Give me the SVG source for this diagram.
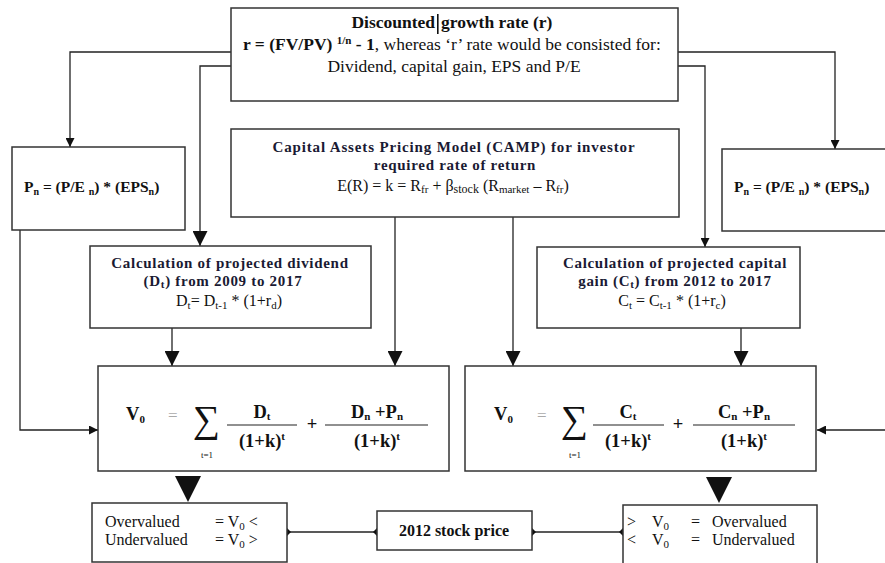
<svg xmlns="http://www.w3.org/2000/svg" width="885" height="563" viewBox="0 0 885 563">
<style>
.box{fill:#fff;stroke:#333;stroke-width:1.5}
.ln{fill:none;stroke:#222;stroke-width:1.3}
text{font-family:"Liberation Serif","Times New Roman",serif;fill:#111}
.b{font-weight:bold}
.t17{font-size:17.5px}
.t15{font-size:15.5px}
.hd{font-size:15px;font-weight:bold;letter-spacing:0.7px;fill:#1a1a33}
.t16{font-size:16px}
.f{font-size:18.5px;font-weight:bold}
.sig{font-size:38px}
.sm{font-size:9px}
.eq{fill:#aaa;font-size:17px}
</style>
<defs>
<marker id="arrS" viewBox="0 0 10 10" refX="10" refY="5" markerWidth="9" markerHeight="9" markerUnits="userSpaceOnUse" orient="auto"><path d="M0,0 L10,5 L0,10 z" fill="#111"/></marker>
<marker id="arrL" viewBox="0 0 10 10" refX="10" refY="5" markerWidth="15" markerHeight="15" markerUnits="userSpaceOnUse" orient="auto"><path d="M0,0 L10,5 L0,10 z" fill="#111"/></marker>
<marker id="dia" viewBox="0 0 10 10" refX="5" refY="5" markerWidth="8" markerHeight="8" markerUnits="userSpaceOnUse" orient="auto"><path d="M5,0 L10,5 L5,10 L0,5 z" fill="#111"/></marker>
</defs>

<g id="connectors">
<path class="ln" d="M231,52 H70 V147" marker-end="url(#arrS)"/>
<path class="ln" d="M231,66 H200 V246" marker-end="url(#arrL)"/>
<path class="ln" d="M678,52 H835 V149" marker-end="url(#arrS)"/>
<path class="ln" d="M678,66 H705 V247" marker-end="url(#arrS)"/>
<path class="ln" d="M20,230 V430 H98" marker-end="url(#arrS)"/>
<path class="ln" d="M885,430 H817" marker-end="url(#arrS)"/>
<path class="ln" d="M172,328 V366" marker-end="url(#arrL)"/>
<path class="ln" d="M395,217 V366" marker-end="url(#arrL)"/>
<path class="ln" d="M513,217 V366" marker-end="url(#arrL)"/>
<path class="ln" d="M741,328 V366" marker-end="url(#arrL)"/>
<polygon points="175,476 201,476 188,502" fill="#111"/>
<polygon points="706,477 732,477 719,503" fill="#111"/>
<path class="ln" d="M287,532 H377" marker-start="url(#dia)" marker-end="url(#dia)"/>
<path class="ln" d="M532,532 H623" marker-start="url(#dia)" marker-end="url(#dia)"/>
</g>

<g id="growth-rate">
<rect class="box" x="231" y="8" width="447" height="93"/>
<text class="b t17" x="435" y="28" text-anchor="end">Discounted</text>
<rect x="437" y="14" width="1.6" height="20" fill="#111"/>
<text class="b t17" x="441" y="28">growth rate (r)</text>
<text class="t17" x="243" y="50"><tspan class="b">r = (FV/PV) </tspan><tspan class="b" font-size="11" dy="-6">1/n</tspan><tspan class="b" dy="6"> - 1</tspan>, whereas ‘r’ rate would be consisted for:</text>
<text class="t17" x="454" y="72" text-anchor="middle">Dividend, capital gain, EPS and P/E</text>
</g>

<g id="pn-left">
<rect class="box" x="12" y="147" width="173" height="83"/>
<text class="b t15" x="24" y="192">P<tspan font-size="10" dy="3">n</tspan><tspan dy="-3"> = (P/E </tspan><tspan font-size="10" dy="3">n</tspan><tspan dy="-3">) * (EPS</tspan><tspan font-size="10" dy="3">n</tspan><tspan dy="-3">)</tspan></text>
</g>

<g id="pn-right">
<rect class="box" x="722" y="149" width="170" height="82"/>
<text class="b t15" x="734" y="192">P<tspan font-size="10" dy="3">n</tspan><tspan dy="-3"> = (P/E </tspan><tspan font-size="10" dy="3">n</tspan><tspan dy="-3">) * (EPS</tspan><tspan font-size="10" dy="3">n</tspan><tspan dy="-3">)</tspan></text>
</g>

<g id="capm">
<rect class="box" x="231" y="129" width="448" height="88"/>
<text class="hd" x="454" y="152" text-anchor="middle" style="letter-spacing:0.85px">Capital Assets Pricing Model (CAMP)  for investor</text>
<text class="hd" x="455" y="170" text-anchor="middle">required rate of return</text>
<text class="t16" x="453" y="191" text-anchor="middle">E(R) = k = R<tspan font-size="11" dy="2">fr</tspan><tspan dy="-2"> + β</tspan><tspan font-size="12" dy="2">stock</tspan><tspan dy="-2"> (R</tspan><tspan font-size="11" dy="2">market</tspan><tspan dy="-2"> – R</tspan><tspan font-size="11" dy="2">fr</tspan><tspan dy="-2">)</tspan></text>
</g>

<g id="dividend">
<rect class="box" x="90" y="246" width="281" height="82"/>
<text class="hd" x="230" y="268" text-anchor="middle">Calculation of projected dividend</text>
<text class="hd" x="223" y="286" text-anchor="middle">(D<tspan font-size="11" dy="2">t</tspan><tspan dy="-2">) from 2009 to 2017</tspan></text>
<text class="t16" x="229" y="306" text-anchor="middle">D<tspan font-size="11" dy="3">t</tspan><tspan dy="-3">= D</tspan><tspan font-size="11" dy="3">t-1</tspan><tspan dy="-3"> * (1+r</tspan><tspan font-size="11" dy="3">d</tspan><tspan dy="-3">)</tspan></text>
</g>

<g id="capital-gain">
<rect class="box" x="537" y="247" width="263" height="81"/>
<text class="hd" x="675" y="268" text-anchor="middle">Calculation of projected capital</text>
<text class="hd" x="675" y="286" text-anchor="middle">gain (C<tspan font-size="11" dy="2">t</tspan><tspan dy="-2">) from 2012 to 2017</tspan></text>
<text class="t16" x="672" y="306" text-anchor="middle">C<tspan font-size="11" dy="3">t</tspan><tspan dy="-3"> = C</tspan><tspan font-size="11" dy="3">t-1</tspan><tspan dy="-3"> * (1+r</tspan><tspan font-size="11" dy="3">c</tspan><tspan dy="-3">)</tspan></text>
</g>

<g id="v0-dividend">
<rect class="box" x="98" y="366" width="351" height="105"/>
<text class="f" x="126" y="420">V<tspan font-size="11" dy="3">0</tspan></text>
<text class="eq" x="168" y="421">=</text>
<text class="sig" x="193" y="432">∑</text>
<text class="sm" x="207" y="458" text-anchor="middle">t=1</text>
<line x1="227" y1="425" x2="297" y2="425" stroke="#222" stroke-width="1.2"/>
<text class="f" x="262" y="418" text-anchor="middle">D<tspan font-size="11" dy="2">t</tspan></text>
<text class="f" x="262" y="447" text-anchor="middle">(1+k)<tspan font-size="11" dy="-7">t</tspan></text>
<text class="f" x="312" y="430" text-anchor="middle" font-weight="normal">+</text>
<line x1="325" y1="425" x2="428" y2="425" stroke="#222" stroke-width="1.2"/>
<text class="f" x="377" y="418" text-anchor="middle">D<tspan font-size="11" dy="2">n</tspan><tspan dy="-2"> +P</tspan><tspan font-size="11" dy="2">n</tspan></text>
<text class="f" x="377" y="447" text-anchor="middle">(1+k)<tspan font-size="11" dy="-7">t</tspan></text>
</g>

<g id="v0-capital">
<rect class="box" x="465" y="366" width="351" height="105"/>
<text class="f" x="494" y="420">V<tspan font-size="11" dy="3">0</tspan></text>
<text class="eq" x="537" y="421">=</text>
<text class="sig" x="561" y="432">∑</text>
<text class="sm" x="575" y="458" text-anchor="middle">t=1</text>
<line x1="593" y1="425" x2="664" y2="425" stroke="#222" stroke-width="1.2"/>
<text class="f" x="628" y="418" text-anchor="middle">C<tspan font-size="11" dy="2">t</tspan></text>
<text class="f" x="628" y="447" text-anchor="middle">(1+k)<tspan font-size="11" dy="-7">t</tspan></text>
<text class="f" x="678" y="430" text-anchor="middle" font-weight="normal">+</text>
<line x1="693" y1="425" x2="795" y2="425" stroke="#222" stroke-width="1.2"/>
<text class="f" x="744" y="418" text-anchor="middle">C<tspan font-size="11" dy="2">n</tspan><tspan dy="-2"> +P</tspan><tspan font-size="11" dy="2">n</tspan></text>
<text class="f" x="744" y="447" text-anchor="middle">(1+k)<tspan font-size="11" dy="-7">t</tspan></text>
</g>

<g id="result-left">
<rect class="box" x="92" y="503" width="195" height="59"/>
<text class="t16" x="105" y="527" font-size="16.5">Overvalued</text>
<text class="t16" x="215" y="527">= V<tspan font-size="11" dy="3">0</tspan><tspan dy="-3">  &lt;</tspan></text>
<text class="t16" x="105" y="545" font-size="16.5">Undervalued</text>
<text class="t16" x="215" y="545">= V<tspan font-size="11" dy="3">0</tspan><tspan dy="-3">  &gt;</tspan></text>
</g>

<g id="stock-price">
<rect class="box" x="377" y="511" width="155" height="39"/>
<text class="b" x="454" y="536" font-size="16" text-anchor="middle">2012 stock price</text>
</g>

<g id="result-right">
<rect class="box" x="623" y="505" width="194" height="62"/>
<text class="t16" x="627" y="527">&gt;</text>
<text class="t16" x="652" y="527">V<tspan font-size="11" dy="3">0</tspan></text>
<text class="t16" x="691" y="527">=</text>
<text class="t16" x="712" y="527" font-size="16.5">Overvalued</text>
<text class="t16" x="627" y="545">&lt;</text>
<text class="t16" x="652" y="545">V<tspan font-size="11" dy="3">0</tspan></text>
<text class="t16" x="691" y="545">=</text>
<text class="t16" x="712" y="545" font-size="16.5">Undervalued</text>
</g>
</svg>
